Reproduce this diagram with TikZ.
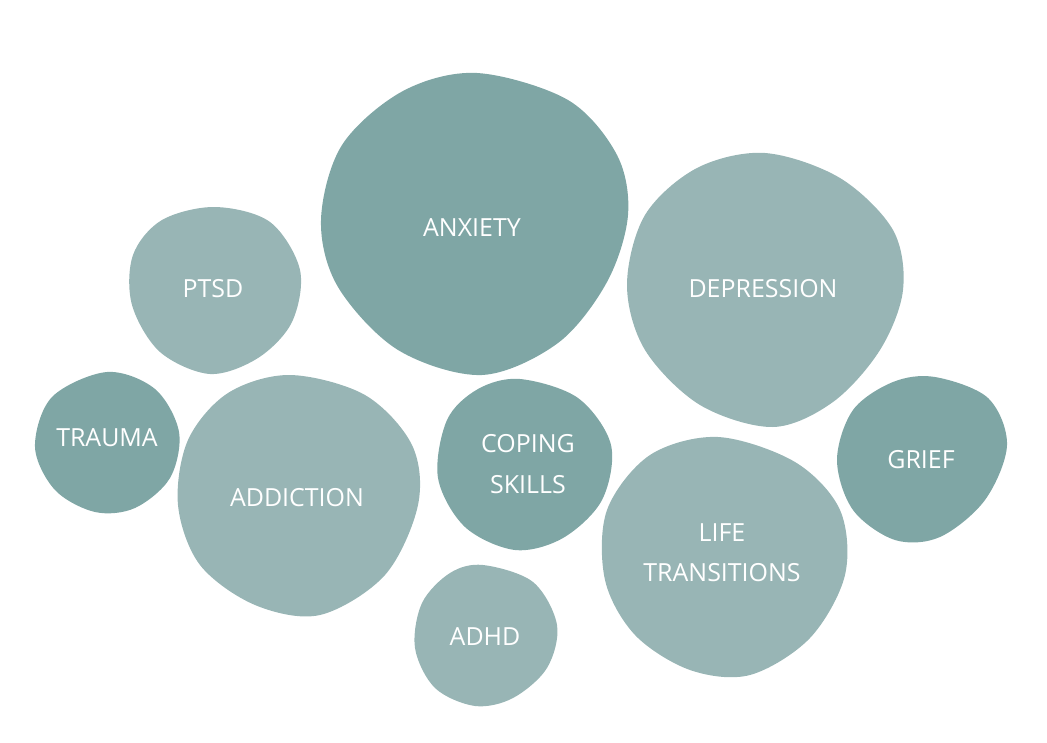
\documentclass[tikz,border=0pt]{standalone}
\usepackage{fontspec}
\setmainfont{Open Sans}
\usetikzlibrary{positioning}

\definecolor{tealdark}{HTML}{7FA6A5}
\definecolor{teallight}{HTML}{98B5B5}

\tikzset{
    blobdark/.style={fill=tealdark, draw=none},
    bloblight/.style={fill=teallight, draw=none},
    label/.style={text=white, font=\fontsize{14.2}{17}\selectfont, align=center, inner sep=0pt}
}

\begin{document}
\begin{tikzpicture}[x=0.02cm, y=-0.02cm]
        \useasboundingbox (0,0) rectangle (1047,743);

        % Bolle scure
        \fill[blobdark] plot[smooth cycle, tension=0.55] coordinates
            {(477,73) (568,100) (617,155) (628,215) (607,282) (558,343) (482,375)
             (398,350) (338,287) (321,220) (342,145) (403,91)};
        \fill[blobdark] plot[smooth cycle, tension=0.55] coordinates
            {(107,372) (155,389) (179,432) (170,478) (135,508) (95,512) (55,490) (35,447) (52,397)};
        \fill[blobdark] plot[smooth cycle, tension=0.55] coordinates
            {(520,379) (578,398) (611,445) (602,500) (563,538) (515,550) (465,527) (438,478)
             (447,420) (478,389)};
        \fill[blobdark] plot[smooth cycle, tension=0.55] coordinates
            {(935,377) (988,398) (1007,445) (985,500) (940,537) (895,540) (853,510) (837,460)
             (853,410) (893,382)};

        % Bolle chiare
        \fill[bloblight] plot[smooth cycle, tension=0.55] coordinates
            {(765,153) (840,178) (893,230) (903,290) (880,350) (833,402) (773,427) (700,405)
             (645,350) (627,285) (645,215) (697,168)};
        \fill[bloblight] plot[smooth cycle, tension=0.55] coordinates
            {(215,207) (270,222) (300,270) (292,322) (258,358) (210,374) (160,352) (132,305)
             (133,255) (162,220)};
        \fill[bloblight] plot[smooth cycle, tension=0.55] coordinates
            {(290,375) (365,395) (412,445) (418,505) (385,575) (320,615) (255,605) (200,565)
             (178,505) (188,440) (228,393)};
        \fill[bloblight] plot[smooth cycle, tension=0.55] coordinates
            {(483,565) (533,582) (557,625) (547,668) (513,698) (475,706) (435,688) (415,648)
             (422,603) (450,573)};
        \fill[bloblight] plot[smooth cycle, tension=0.55] coordinates
            {(718,437) (795,462) (840,510) (845,575) (810,638) (750,675) (690,670) (635,635)
             (605,580) (607,510) (650,455)};

        % Etichette
        \node[label] (anxiety) at (472,228) {ANXIETY};
        \node[label] (depression) at (763,289) {DEPRESSION};
        \node[label] (ptsd) at (213,289) {PTSD};
        \node[label] (trauma) at (107,438) {TRAUMA};
        \node[label] (addiction) at (297,498) {ADDICTION};
        \node[label] (coping) at (528,464) {COPING\\[6pt]SKILLS};
        \node[label] (adhd) at (485,637) {ADHD};
        \node[label] (life) at (722,553) {LIFE\\[6pt]TRANSITIONS};
        \node[label] (grief) at (921,460) {GRIEF};
    \end{tikzpicture}
\end{document}
